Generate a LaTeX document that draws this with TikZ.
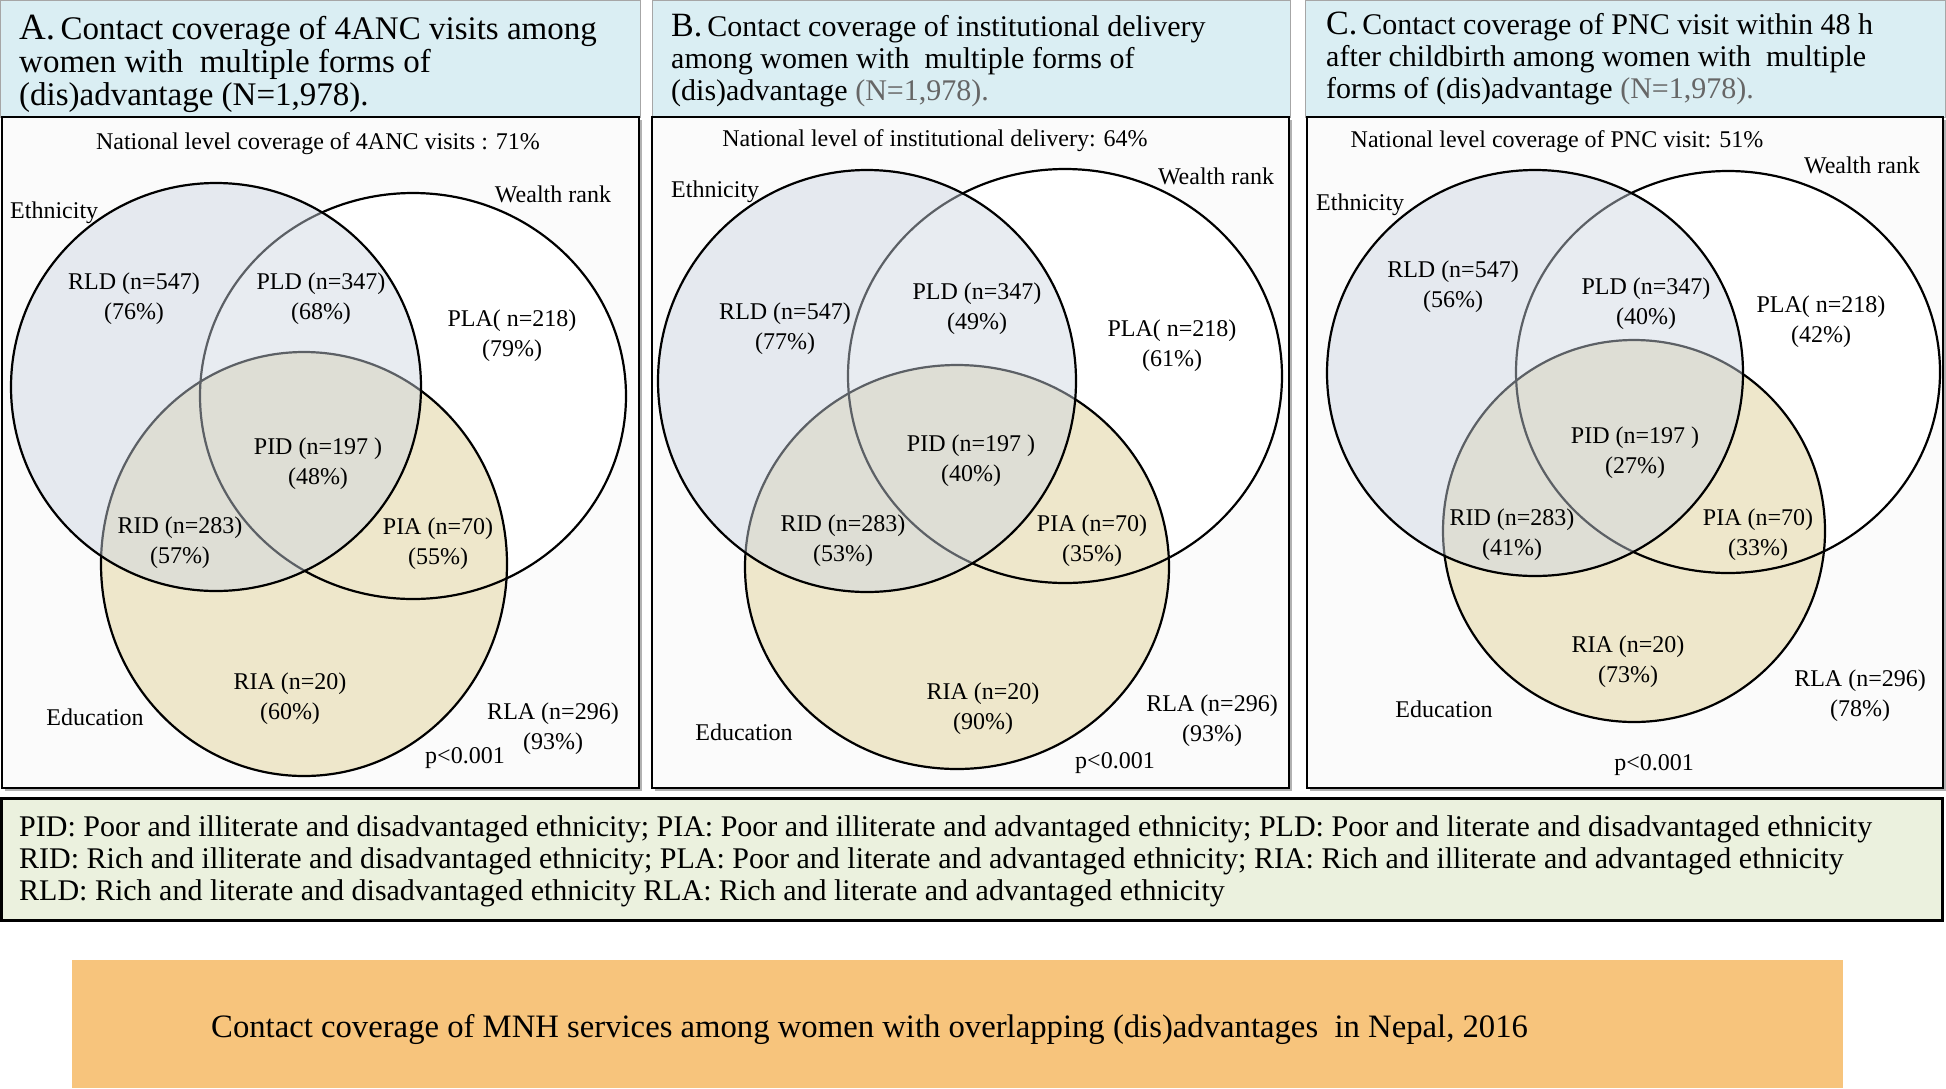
\documentclass[tikz,border=0pt]{standalone}
\usepackage{fontspec}
\setmainfont{Liberation Serif}
\definecolor{hdrblue}{HTML}{DAEEF3}
\definecolor{legendgreen}{HTML}{EBF1DE}
\definecolor{titleorange}{HTML}{F7C47C}
\definecolor{ethfill}{RGB}{204,213,226}
\definecolor{edufill}{HTML}{EEE7CB}
\definecolor{boxbg}{HTML}{FBFBFB}
\begin{document}
\begin{tikzpicture}[x=1pt,y=-1pt,
  hdr/.style={fill=hdrblue,draw=black!35,line width=1pt},
  hdrtext/.style={anchor=north west,inner sep=0pt,align=left,font=\fontsize{33}{33}\selectfont},
  hdrsmall/.style={hdrtext,font=\fontsize{30}{32}\selectfont},
  panel/.style={fill=boxbg,draw=black,line width=2.5pt},
  boxshadow/.style={fill=black!30},
  educ/.style={fill=edufill,draw=black,line width=2.2pt},
  wlth/.style={draw=black,line width=2.2pt},
  ethn/.style={fill=ethfill,fill opacity=0.45,draw=black,line width=2.2pt},
  nat/.style={anchor=base,inner sep=0pt,font=\fontsize{24}{30}\selectfont},
  setlbl/.style={anchor=base,inner sep=0pt,font=\fontsize{24}{30}\selectfont},
  lab/.style={align=center,inner sep=0pt,font=\fontsize{24}{30}\selectfont},
  legendbox/.style={fill=legendgreen,draw=black,line width=3pt},
  legendtext/.style={anchor=north west,inner sep=0pt,align=left,font=\fontsize{30}{32}\selectfont},
  titletext/.style={anchor=base west,inner sep=0pt,font=\fontsize{32.7}{36}\selectfont}]
\useasboundingbox (0,0) rectangle (1946,1088);
\fill[white] (0,0) rectangle (1946,1088);

\fill[boxshadow] (5,120) rectangle (642,791);
\draw[hdr] (0.5,0.5) rectangle (640,117);
\node[hdrtext] (aHead) at (19,14.5) {{\fontsize{37}{33}\selectfont A.}\,Contact coverage of 4ANC visits among\\women with \ multiple forms of\\(dis)advantage (N=1,978).};
\draw[panel] (2,117) rectangle (639,788);
\fill[white] (413,396) ellipse [x radius=213pt, y radius=203pt];
\draw[educ] (304,564) ellipse [x radius=203pt, y radius=212pt];
\draw[wlth] (413,396) ellipse [x radius=213pt, y radius=203pt];
\draw[ethn] (216,387) ellipse [x radius=205pt, y radius=204pt];
\node[nat] (aNat) at (318,149) {National level coverage of 4ANC visits : 71\%};
\node[setlbl,anchor=base west] (aEth) at (10,218) {Ethnicity};
\node[setlbl] (aWealth) at (553,202) {Wealth rank};
\node[setlbl] (aEdu) at (95,725) {Education};
\node[lab] (aRLD) at (134,299) {RLD (n=547)\\(76\%)};
\node[lab] (aPLD) at (321,299) {PLD (n=347)\\(68\%)};
\node[lab] (aPLA) at (512,336) {PLA( n=218)\\(79\%)};
\node[lab] (aPID) at (318,464) {PID (n=197 )\\(48\%)};
\node[lab] (aRID) at (180,543) {RID (n=283)\\(57\%)};
\node[lab] (aPIA) at (438,544) {PIA (n=70)\\(55\%)};
\node[lab] (aRIA) at (290,699) {RIA (n=20)\\(60\%)};
\node[lab] (aRLA) at (553,729) {RLA (n=296)\\(93\%)};
\node[nat] (aP) at (465,763) {p<0.001};

\fill[boxshadow] (655,120) rectangle (1292,791);
\draw[hdr] (652,0.5) rectangle (1290,117);
\node[hdrsmall] (bHead) at (671,14.5) {{\fontsize{34}{32}\selectfont B.}\,Contact coverage of institutional delivery\\among women with \ multiple forms of\\(dis)advantage {\color{black!60}(N=1,978).}};
\draw[panel] (652,117) rectangle (1289,788);
\fill[white] (1065,376) ellipse [x radius=217pt, y radius=207pt];
\draw[educ] (957,567) ellipse [x radius=212pt, y radius=202pt];
\draw[wlth] (1065,376) ellipse [x radius=217pt, y radius=207pt];
\draw[ethn] (867,381) ellipse [x radius=209pt, y radius=211pt];
\node[nat] (bNat) at (935,146) {National level of institutional delivery: 64\%};
\node[setlbl,anchor=base west] (bEth) at (671,197) {Ethnicity};
\node[setlbl] (bWealth) at (1216,184) {Wealth rank};
\node[setlbl] (bEdu) at (744,740) {Education};
\node[lab] (bRLD) at (785,329) {RLD (n=547)\\(77\%)};
\node[lab] (bPLD) at (977,309) {PLD (n=347)\\(49\%)};
\node[lab] (bPLA) at (1172,346) {PLA( n=218)\\(61\%)};
\node[lab] (bPID) at (971,461) {PID (n=197 )\\(40\%)};
\node[lab] (bRID) at (843,541) {RID (n=283)\\(53\%)};
\node[lab] (bPIA) at (1092,541) {PIA (n=70)\\(35\%)};
\node[lab] (bRIA) at (983,709) {RIA (n=20)\\(90\%)};
\node[lab] (bRLA) at (1212,721) {RLA (n=296)\\(93\%)};
\node[nat] (bP) at (1115,768) {p<0.001};

\fill[boxshadow] (1310,120) rectangle (1946,791);
\draw[hdr] (1305,0.5) rectangle (1945.5,117);
\node[hdrsmall] (cHead) at (1326,12) {{\fontsize{34}{32}\selectfont C.}\,Contact coverage of PNC visit within 48 h\\after childbirth among women with \ multiple\\forms of (dis)advantage {\color{black!60}(N=1,978).}};
\draw[panel] (1307,117) rectangle (1943,788);
\fill[white] (1728,372) ellipse [x radius=212pt, y radius=201pt];
\draw[educ] (1634,531) ellipse [x radius=191pt, y radius=191pt];
\draw[wlth] (1728,372) ellipse [x radius=212pt, y radius=201pt];
\draw[ethn] (1535,373) ellipse [x radius=208pt, y radius=203pt];
\node[nat] (cNat) at (1557,147) {National level coverage of PNC visit: 51\%};
\node[setlbl,anchor=base west] (cEth) at (1316,210) {Ethnicity};
\node[setlbl] (cWealth) at (1862,173) {Wealth rank};
\node[setlbl] (cEdu) at (1444,717) {Education};
\node[lab] (cRLD) at (1453,287) {RLD (n=547)\\(56\%)};
\node[lab] (cPLD) at (1646,304) {PLD (n=347)\\(40\%)};
\node[lab] (cPLA) at (1821,322) {PLA( n=218)\\(42\%)};
\node[lab] (cPID) at (1635,453) {PID (n=197 )\\(27\%)};
\node[lab] (cRID) at (1512,535) {RID (n=283)\\(41\%)};
\node[lab] (cPIA) at (1758,535) {PIA (n=70)\\(33\%)};
\node[lab] (cRIA) at (1628,662) {RIA (n=20)\\(73\%)};
\node[lab] (cRLA) at (1860,696) {RLA (n=296)\\(78\%)};
\node[nat] (cP) at (1654,770) {p<0.001};

\draw[legendbox] (1.5,798) rectangle (1942,920);
\node[legendtext] (legend) at (19,815.5) {PID: Poor and illiterate and disadvantaged ethnicity; PIA: Poor and illiterate and advantaged ethnicity; PLD: Poor and literate and disadvantaged ethnicity\\RID: Rich and illiterate and disadvantaged ethnicity; PLA: Poor and literate and advantaged ethnicity; RIA: Rich and illiterate and advantaged ethnicity\\RLD: Rich and literate and disadvantaged ethnicity RLA: Rich and literate and advantaged ethnicity};
\fill[titleorange] (72,960) rectangle (1843,1088);
\node[titletext] (title) at (211,1037) {Contact coverage of MNH services among women with overlapping (dis)advantages \ in Nepal, 2016};
\end{tikzpicture}
\end{document}
